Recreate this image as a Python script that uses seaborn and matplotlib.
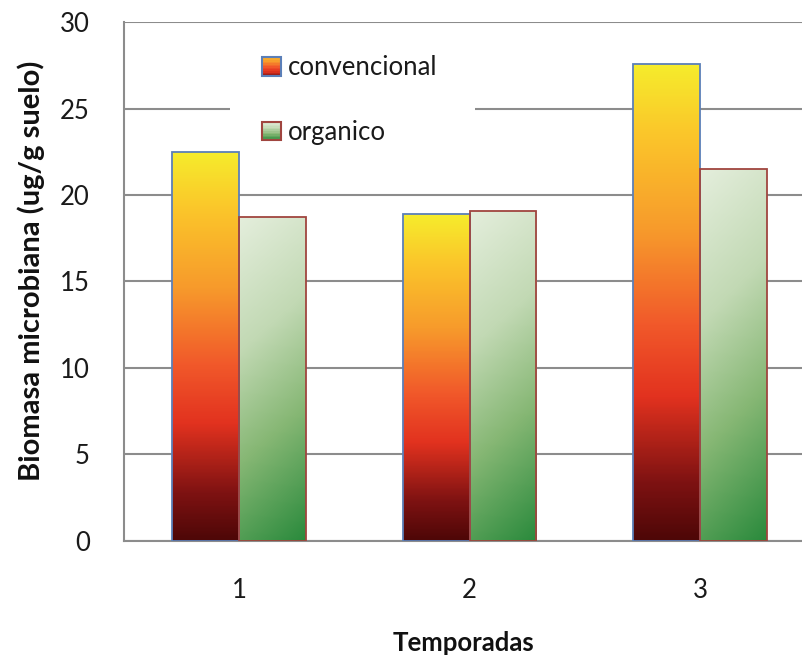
import numpy as np
import pandas as pd
import seaborn as sns
import matplotlib.pyplot as plt
from matplotlib.colors import LinearSegmentedColormap
from matplotlib.patches import Rectangle
from matplotlib.legend_handler import HandlerBase

temporadas = ["1", "2", "3"]
convencional = [22.5, 18.9, 27.6]
organico = [18.7, 19.1, 21.5]
series = ["convencional", "organico"]

df = pd.DataFrame({
    "Temporadas": temporadas * 2,
    "valor": convencional + organico,
    "tipo": ["convencional"] * 3 + ["organico"] * 3,
})

sns.set_style("white")
plt.rcParams["font.family"] = ["Lato", "DejaVu Sans"]

cmap_conv = LinearSegmentedColormap.from_list("conv", [
    (0.0, "#4e0707"), (0.12, "#7e1212"), (0.3, "#e2321f"),
    (0.45, "#f1582a"), (0.65, "#f79a2c"), (0.85, "#fbc52a"), (1.0, "#f6ec2c")])
cmap_org = LinearSegmentedColormap.from_list("org", [
    (0.0, "#e4eedc"), (0.35, "#c2d9b4"), (0.65, "#86b774"), (1.0, "#2a8a3c")])
edge_conv = "#5b7fb8"
edge_org = "#a0453f"
fs = 18.5

fig = plt.figure(figsize=(8.03, 6.57), dpi=100)
ax = fig.add_axes([0.1544, 0.1766, 0.8456, 0.7899])

sns.barplot(data=df, x="Temporadas", y="valor", hue="tipo", hue_order=series,
            order=temporadas, width=0.58, legend=False, ax=ax, zorder=3)

bars = [p for p in ax.patches if p.get_height() > 0]
ny, nx = 200, 40
yy, xx = np.mgrid[0:1:ny * 1j, 0:1:nx * 1j]
for i, p in enumerate(bars):
    x0, w, h = p.get_x(), p.get_width(), p.get_height()
    if i < 3:
        grad = 1 - yy  # imshow origin upper: row 0 at top
        cm, ec = cmap_conv, edge_conv
    else:
        grad = 0.85 * yy + 0.15 * xx
        cm, ec = cmap_org, edge_org
    im = ax.imshow(grad, cmap=cm, vmin=0, vmax=1, extent=[x0, x0 + w, 0, h],
                   aspect="auto", zorder=3, interpolation="bilinear")
    im.set_clip_path(p)
    p.set_facecolor("none")
    p.set_edgecolor(ec)
    p.set_linewidth(1.3)
    p.set_zorder(4)

ax.set_xlim(-0.5, 2.447)
ax.set_ylim(0, 30)
ax.set_yticks(range(0, 31, 5))
ax.yaxis.grid(True, color="#8c8c8c", linewidth=1.5, zorder=0)
ax.set_axisbelow(True)
for s in ["top", "right"]:
    ax.spines[s].set_visible(False)
ax.spines["left"].set_color("#8c8c8c")
ax.spines["left"].set_linewidth(1.5)
ax.spines["bottom"].set_color("#8c8c8c")
ax.spines["bottom"].set_linewidth(1.5)
ax.tick_params(axis="y", length=6.5, width=1.5, color="#8c8c8c", pad=18,
               labelsize=fs, labelcolor="#1a1a1a")
ax.tick_params(axis="x", length=0, pad=27, labelsize=fs, labelcolor="#1a1a1a")
ax.set_xlabel("Temporadas", fontsize=fs, fontweight="bold", labelpad=20, color="#111")
ax.set_ylabel("Biomasa microbiana (ug/g suelo)", fontsize=21, fontweight="bold",
              color="#111")
ax.yaxis.set_label_coords(-0.116, 0.52)

# white area behind the legend (hides the gridline like the original)
ax.add_patch(Rectangle((0.156, 0.734), 0.361, 0.254, transform=ax.transAxes,
                       facecolor="white", edgecolor="none", zorder=2))


class GradHandler(HandlerBase):
    def __init__(self, cmap, edge, diag=False):
        super().__init__()
        self.cmap, self.edge, self.diag = cmap, edge, diag

    def create_artists(self, legend, orig_handle, xd, yd, width, height, fontsize, trans):
        size = height * 1.05
        x0 = xd + width - size
        y0 = yd + (height - size) / 2
        arts = []
        n = 12
        for k in range(n):
            t = (k + 0.5) / n
            c = self.cmap(1 - t) if self.diag else self.cmap(0.15 + 0.65 * t)
            arts.append(Rectangle((x0, y0 + size * k / n), size, size / n + 0.3,
                                  facecolor=c, edgecolor="none", transform=trans))
        arts.append(Rectangle((x0, y0), size, size, facecolor="none",
                              edgecolor=self.edge, linewidth=1.5, transform=trans))
        return arts


h1 = Rectangle((0, 0), 1, 1)
h2 = Rectangle((0, 0), 1, 1)
leg = ax.legend([h1, h2], series, loc="upper left", bbox_to_anchor=(0.203, 0.936),
                handler_map={h1: GradHandler(cmap_conv, edge_conv),
                             h2: GradHandler(cmap_org, edge_org, diag=True)},
                fontsize=fs, frameon=False, labelspacing=1.55, handlelength=0.75,
                handletextpad=0.25, borderpad=0, borderaxespad=0)
leg.set_zorder(5)
for t in leg.get_texts():
    t.set_color("#1a1a1a")

fig.savefig("out.png", dpi=100)
